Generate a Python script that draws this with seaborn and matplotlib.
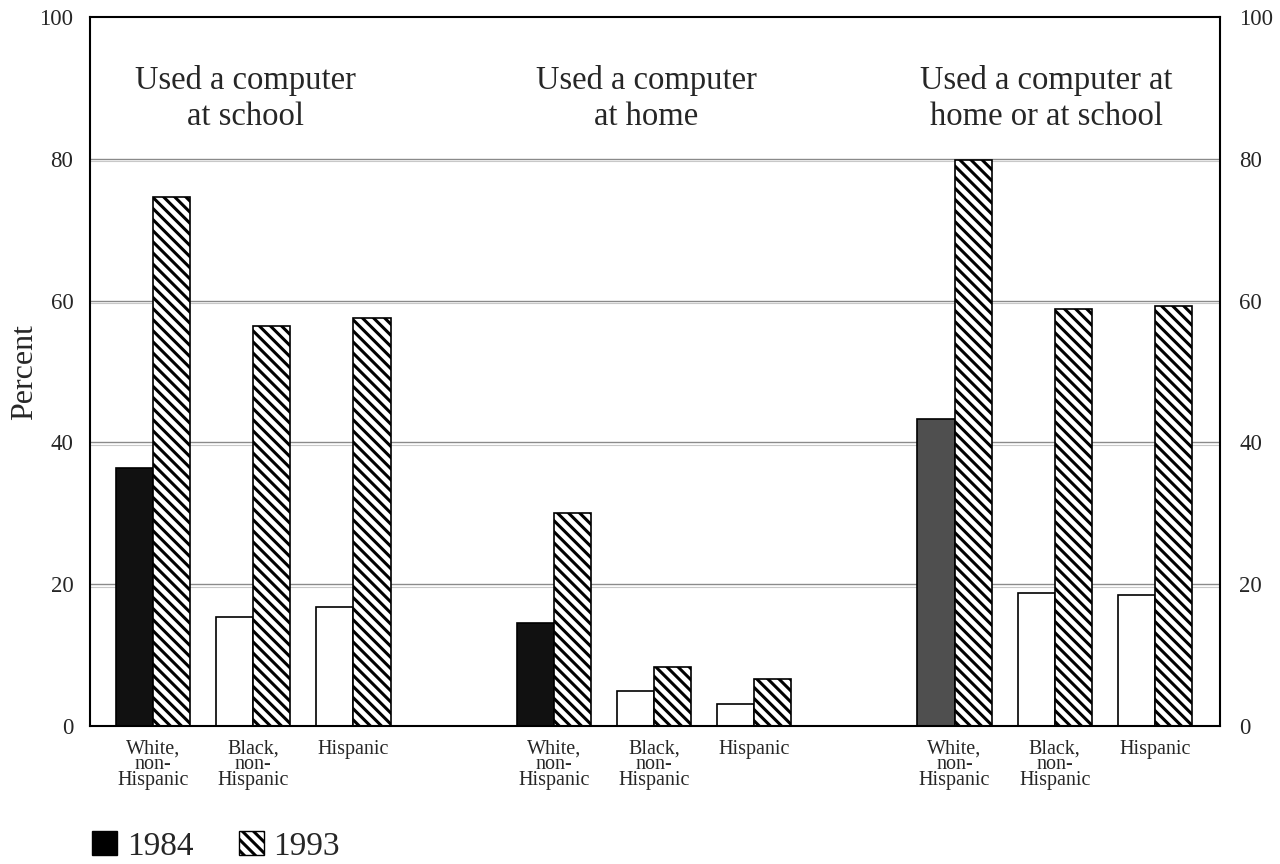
import numpy as np
import pandas as pd
import matplotlib
matplotlib.use("Agg")
import matplotlib.pyplot as plt
import seaborn as sns
from matplotlib.patches import Patch

# ---------- DATA ----------
groups = ["Used a computer\nat school", "Used a computer\nat home",
          "Used a computer at\nhome or at school"]
races = ["White,\nnon-\nHispanic", "Black,\nnon-\nHispanic", "Hispanic"]
years = ["1984", "1993"]
vals_1984 = [36.4, 15.4, 16.8, 14.5, 4.9, 3.1, 43.3, 18.8, 18.5]
vals_1993 = [74.6, 56.4, 57.5, 30.0, 8.3, 6.6, 79.8, 58.8, 59.2]
# fill of the 1984 bars as printed (scan shows white for some)
fill_1984 = ["#111111", "white", "white", "#111111", "white", "white",
             "#4f4f4f", "white", "white"]

# category slots: three per group with an empty slot between groups
positions = [g * 4 + r for g in range(3) for r in range(3)]

df = pd.DataFrame({
    "pos": positions * 2,
    "year": [years[0]] * 9 + [years[1]] * 9,
    "percent": vals_1984 + vals_1993,
})

# ---------- STYLE ----------
sns.set_theme(style="white")
plt.rcParams["font.family"] = ["Liberation Serif", "DejaVu Serif"]
plt.rcParams["hatch.linewidth"] = 2.2
plt.rcParams["hatch.color"] = "black"

fig = plt.figure(figsize=(12.8, 8.64), dpi=100)
ax = fig.add_axes([90 / 1280, 1 - 726 / 864, 1130 / 1280, 709 / 864])

sns.barplot(data=df, x="pos", y="percent", hue="year", native_scale=True,
            width=0.74, palette=["#111111", "white"], edgecolor="black",
            linewidth=1.2, legend=False, ax=ax)

# per-bar fill/hatch
bars_84 = ax.containers[0]
bars_93 = ax.containers[1]
for p, c in zip(bars_84, fill_1984):
    p.set_facecolor(c)
for p in bars_93:
    p.set_facecolor("white")
    p.set_hatch("\\\\\\")

ax.set_xlim(-0.63, 10.65)
ax.set_ylim(0, 100)

# gridlines (printed as thin double rules)
for yv in [20, 40, 60, 80]:
    ax.axhline(yv, color="#8a8a8a", lw=1.0, zorder=0)
    ax.axhline(yv - 0.35, color="#c8c8c8", lw=0.8, zorder=0)

ax.set_yticks([0, 20, 40, 60, 80, 100])
ax.tick_params(axis="y", labelsize=16.5, length=0, pad=12)
ax.set_xticks(positions)
ax.set_xticklabels(races * 3, fontsize=14.5, linespacing=0.75)
ax.tick_params(axis="x", length=0, pad=10)
ax.set_xlabel("")
ax.set_ylabel("Percent", fontsize=23)
ax.yaxis.set_label_coords(-0.045, 0.5)

for s in ax.spines.values():
    s.set_color("black")
    s.set_linewidth(1.5)

ax2 = ax.twinx()
ax2.set_ylim(0, 100)
ax2.set_yticks([0, 20, 40, 60, 80, 100])
ax2.tick_params(axis="y", labelsize=16.5, length=0, pad=14)
for s in ax2.spines.values():
    s.set_visible(False)
ax2.grid(False)

# group titles
for g, title in enumerate(groups):
    ax.text(g * 4 + 1 - 0.08, 88.5, title, ha="center", va="center",
            fontsize=23.5, linespacing=1.2)

# legend
handles = [Patch(facecolor="black", edgecolor="black", label="1984"),
           Patch(facecolor="white", edgecolor="black", hatch="\\\\\\", label="1993")]
fig.legend(handles=handles, loc="lower left", bbox_to_anchor=(62 / 1280, -0.032),
           ncol=2, frameon=False, fontsize=24, handlelength=0.75,
           handleheight=0.75, handletextpad=0.3, columnspacing=1.35)

fig.savefig("out.png", dpi=100)
